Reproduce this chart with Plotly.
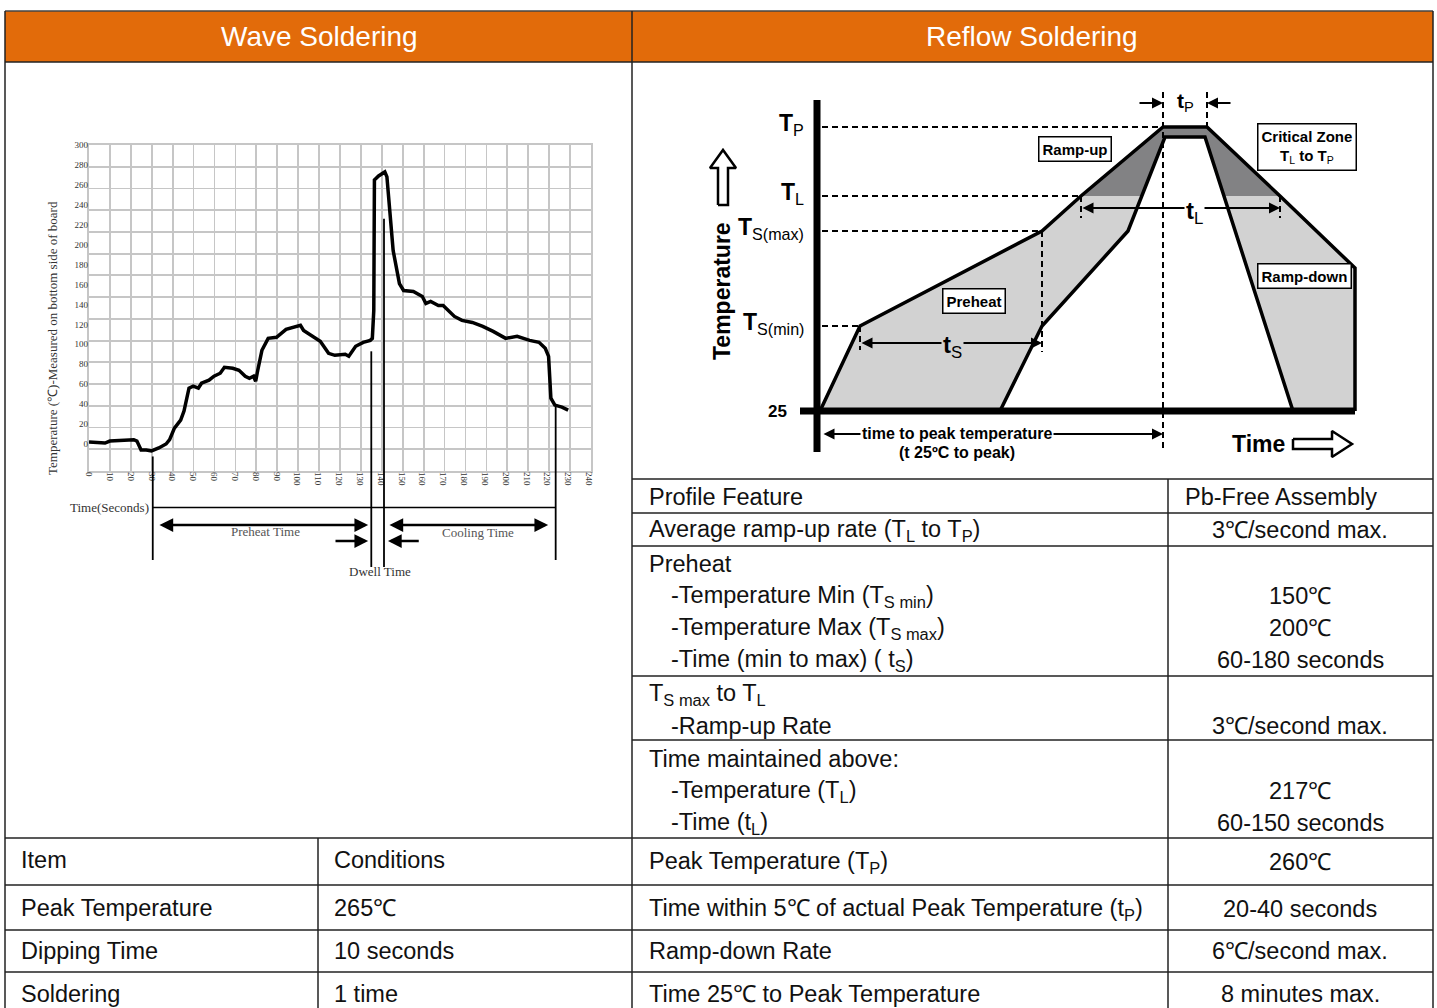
import plotly.graph_objects as go

W, H = 1437, 1008

# ---------------- Wave soldering profile (time s, temperature C) ----------------
wave_time = [0, 7.7, 10, 15.5, 21.5, 23, 25, 27.5, 30, 33.5, 37, 38.7, 41, 44, 45.6,
             48, 50, 52.5, 54, 57.6, 60, 63, 65, 69, 72, 75, 77, 79, 80, 81,
             83, 86, 90, 94.6, 98, 101.5, 103, 106.6, 111, 115, 118, 123, 124.7, 128, 131.6,
             135, 136, 136.7, 137, 139, 142, 143, 144.5, 146, 149, 151, 155.7, 160, 161.7, 164,
             167.7, 170, 175.4, 179, 184, 189, 194, 200, 205.5, 211.5, 216, 219, 220.6, 221.7, 223.6,
             227, 230]
wave_temp = [2, 1, 3, 4, 4.3, 3, -6, -6, -7, -4, 0, 4.3, 16, 24, 33,
             56, 58, 56, 61, 64, 68, 71, 77, 76, 74, 68, 66, 68, 63, 74,
             94, 106, 107, 115, 117, 119, 114, 109, 103, 91, 89, 90, 88, 98, 102,
             104, 106, 134, 265, 269, 273, 268, 231, 194, 161, 154, 153, 148, 141, 143,
             139, 139, 128, 124, 122, 118, 113, 106, 108, 104, 102, 96, 88, 46, 39,
             37, 34]
wave_xticks = list(range(0, 241, 10))
wave_yticks = list(range(0, 301, 20))
# the printed grid (24 x 15 cells) is not aligned exactly with the printed tick labels
grid_cols, grid_rows = 24, 15
# phase marker times (s) and the temperature where each marker line starts
marker_times = [30.6, 135.5, 141.6, 224]
marker_tops = [-12.5, 93, 226, 38]
preheat_span = [33.1, 134]
cooling_span = [143.5, 220.4]
dwell_in = [117.6, 134]
dwell_out = [159, 143.5]

# ---------------- Reflow profile diagram (schematic units) ----------------
outer_x = [3, 43, 225, 264, 346, 390, 463, 538, 538]
outer_y = [0, 85, 180, 215, 284, 284, 215, 143, 0]
inner_x = [183, 225, 311, 348, 388, 476]
inner_y = [0, 85, 180, 274, 274, 0]
level_main = ["T", "T", "T", "T"]
level_sub = ["P", "L", "S(max)", "S(min)"]
level_y = [284, 215, 180, 85]
level_x_end = [346, 264, 225, 43]

# ---------------- Tables ----------------
wave_rows = [("Item", "Conditions"), ("Peak Temperature", "265℃"),
             ("Dipping Time", "10 seconds"), ("Soldering", "1 time")]
reflow_lines = [
    ("Profile Feature", "Pb-Free Assembly", 0),
    ("Average ramp-up rate (T<sub>L</sub> to T<sub>P</sub>)", "3℃/second max.", 0),
    ("Preheat", "", 0),
    ("-Temperature Min (T<sub>S min</sub>)", "150℃", 1),
    ("-Temperature Max (T<sub>S max</sub>)", "200℃", 1),
    ("-Time (min to max) ( t<sub>S</sub>)", "60-180 seconds", 1),
    ("T<sub>S max</sub> to T<sub>L</sub>", "", 0),
    ("-Ramp-up Rate", "3℃/second max.", 1),
    ("Time maintained above:", "", 0),
    ("-Temperature (T<sub>L</sub>)", "217℃", 1),
    ("-Time (t<sub>L</sub>)", "60-150 seconds", 1),
    ("Peak Temperature (T<sub>P</sub>)", "260℃", 0),
    ("Time within 5℃ of actual Peak Temperature (t<sub>P</sub>)", "20-40 seconds", 0),
    ("Ramp-down Rate", "6℃/second max.", 0),
    ("Time 25℃ to Peak Temperature", "8 minutes max.", 0),
]

# ---------------- layout positions (pixels) ----------------
reflow_line_py = [497, 530, 564, 596, 628, 660, 694, 726, 759, 791, 823, 862, 909, 951, 994]
wave_row_py = [860, 908, 951, 994]
reflow_hlines = [479, 513, 546, 676, 740]
full_hlines = [838, 885, 930, 972]


def PX(px):
    return px / W


def PY(py):
    return 1 - py / H


TABLE_FONT = "Liberation Sans, Arial, sans-serif"
DIAG_FONT = "Liberation Sans Narrow, Arial Narrow, Liberation Sans, Arial, sans-serif"
SERIF = "Liberation Serif, Times New Roman, serif"
ORANGE = "#E26B0A"
TS = 23.5
GRID = "#c6c6c6"

# wave chart plot box (px) and label scales
GX0, GX1, GY_BOT, GY_TOP = 89, 591, 471, 145
PX_PER_S = 500 / 240.0
PX_PER_C = 299 / 300.0
XR = [0, (GX1 - GX0) / PX_PER_S]
YR = [-(GY_BOT - 444) / PX_PER_C, 300]

fig = go.Figure()

# grid carrier (invisible) on the grid axes
fig.add_trace(go.Scatter(x=[0], y=[0], mode="markers", marker=dict(opacity=0), xaxis="x", yaxis="y",
                         hoverinfo="skip", showlegend=False))
# ---- wave curve ----
fig.add_trace(go.Scatter(x=wave_time, y=wave_temp, mode="lines",
                         line=dict(color="black", width=3.5), xaxis="x3", yaxis="y3",
                         hoverinfo="skip", showlegend=False))

# ---- reflow diagram fills ----
fig.add_trace(go.Scatter(x=outer_x + [outer_x[0]], y=outer_y + [outer_y[0]], fill="toself",
                         fillcolor="#d2d2d2", mode="lines", line=dict(width=0),
                         xaxis="x2", yaxis="y2", hoverinfo="skip", showlegend=False))
dark_x = outer_x[3:7] + [outer_x[3]]
dark_y = outer_y[3:7] + [outer_y[3]]
fig.add_trace(go.Scatter(x=dark_x, y=dark_y, fill="toself", fillcolor="#828284", mode="lines",
                         line=dict(width=0), xaxis="x2", yaxis="y2", hoverinfo="skip", showlegend=False))
fig.add_trace(go.Scatter(x=inner_x + [inner_x[0]], y=inner_y + [inner_y[0]], fill="toself",
                         fillcolor="white", mode="lines", line=dict(width=0),
                         xaxis="x2", yaxis="y2", hoverinfo="skip", showlegend=False))

# dashed guides
dx, dy = [], []
for ly, lx in zip(level_y, level_x_end):
    dx += [5, lx, None]
    dy += [ly, ly, None]
dx += [outer_x[2], outer_x[2], None, outer_x[4], outer_x[4], None, outer_x[5], outer_x[5], None,
       outer_x[3], outer_x[3], None, outer_x[6], outer_x[6], None, outer_x[1], outer_x[1], None]
dy += [outer_y[2], 59, None, 319, -39, None, 319, outer_y[5], None,
       outer_y[3], 193, None, outer_y[6], 193, None, outer_y[1], 61, None]
fig.add_trace(go.Scatter(x=dx, y=dy, mode="lines", line=dict(color="black", width=2, dash="6px,4px"),
                         xaxis="x2", yaxis="y2", hoverinfo="skip", showlegend=False))

# outlines
fig.add_trace(go.Scatter(x=outer_x, y=outer_y, mode="lines", line=dict(color="black", width=3.5),
                         xaxis="x2", yaxis="y2", hoverinfo="skip", showlegend=False))
fig.add_trace(go.Scatter(x=inner_x, y=inner_y, mode="lines", line=dict(color="black", width=3.5),
                         xaxis="x2", yaxis="y2", hoverinfo="skip", showlegend=False))
# thick axes
fig.add_trace(go.Scatter(x=[0, 0, None, -17, 538], y=[311, -41, None, 0, 0], mode="lines",
                         line=dict(color="black", width=7), xaxis="x2", yaxis="y2",
                         hoverinfo="skip", showlegend=False))
# hollow arrows
fig.add_trace(go.Scatter(x=[-99, -99, -107, -94, -81, -89, -89, -99],
                         y=[206, 243, 243, 261, 243, 243, 206, 206], mode="lines", fill="toself",
                         fillcolor="white", line=dict(color="black", width=2.5),
                         xaxis="x2", yaxis="y2", hoverinfo="skip", showlegend=False))
fig.add_trace(go.Scatter(x=[476, 515, 515, 535, 515, 515, 476, 476],
                         y=[-28, -28, -20, -33, -46, -38, -38, -28], mode="lines", fill="toself",
                         fillcolor="white", line=dict(color="black", width=2.5),
                         xaxis="x2", yaxis="y2", hoverinfo="skip", showlegend=False))

ann = []
shapes = []


def ptext(text, px, py, size, color="#111", family=TABLE_FONT, xanchor="center", angle=0):
    return dict(text=text, x=PX(px), y=PY(py), xref="paper", yref="paper", xanchor=xanchor,
                yanchor="middle", showarrow=False, textangle=angle,
                font=dict(family=family, size=size, color=color))


def hline(x0, x1, py, color="#222", w=1.5):
    return dict(type="line", xref="paper", yref="paper", x0=PX(x0), x1=PX(x1), y0=PY(py), y1=PY(py),
                line=dict(color=color, width=w))


def vline(px, y0, y1, color="#222", w=1.5):
    return dict(type="line", xref="paper", yref="paper", x0=PX(px), x1=PX(px), y0=PY(y0), y1=PY(y1),
                line=dict(color=color, width=w))


# ---- table frame ----
shapes.append(dict(type="rect", xref="paper", yref="paper", x0=PX(5), x1=PX(1433), y0=PY(62), y1=PY(11),
                   fillcolor=ORANGE, line=dict(width=0), layer="below"))
shapes.append(hline(5, 1433, 11, "#444"))
shapes.append(hline(5, 1433, 62))
shapes.append(vline(5, 11, 1010))
shapes.append(vline(1433, 11, 1010))
shapes.append(vline(632, 11, 1010))
shapes.append(vline(318, 838, 1010))
shapes.append(vline(1168, 479, 1010))
for py in reflow_hlines:
    shapes.append(hline(632, 1433, py))
for py in full_hlines:
    shapes.append(hline(5, 1433, py))

ann.append(ptext("Wave Soldering", 319, 37, 28, "white"))
ann.append(ptext("Reflow Soldering", 1032, 37, 28, "white"))

for (a, b), py in zip(wave_rows, wave_row_py):
    ann.append(ptext(a, 19, py, TS, xanchor="left"))
    ann.append(ptext(b, 332, py, TS, xanchor="left"))
for (a, b, ind), py in zip(reflow_lines, reflow_line_py):
    ann.append(ptext(a, 669 if ind else 647, py, TS, xanchor="left"))
    if b:
        cx = 1281 if b.startswith("Pb") else 1300
        ann.append(ptext(b, cx, py, TS))

# ---- wave chart extras ----
WY0, WY1 = PY(GY_BOT), PY(GY_TOP)


def tpaper(T):
    return WY0 + (T - YR[0]) / (YR[1] - YR[0]) * (WY1 - WY0)


bottoms = [560, 567, 567, 560]
for t, top, bot in zip(marker_times, marker_tops, bottoms):
    shapes.append(dict(type="line", xref="x3", yref="paper", x0=t, x1=t, y0=tpaper(top), y1=PY(bot),
                       line=dict(color="black", width=1.8)))
shapes.append(dict(type="line", xref="x3", yref="paper", x0=marker_times[0], x1=marker_times[3],
                   y0=PY(507.5), y1=PY(507.5), line=dict(color="black", width=1.6)))


def harrow(t_head, t_tail, py, both=False):
    return dict(x=t_head, y=PY(py), xref="x3", yref="paper", axref="pixel", ayref="pixel",
                ax=(t_tail - t_head) * PX_PER_S, ay=0, text="", showarrow=True,
                arrowhead=2, arrowsize=1.1, arrowwidth=2.5, arrowcolor="black",
                arrowside="end+start" if both else "end")


def ttext(text, t, py, size=12, color="#444"):
    return dict(text=text, x=t, y=PY(py), xref="x3", yref="paper", xanchor="center", yanchor="middle",
                showarrow=False, font=dict(family=SERIF, size=size, color=color))


ann.append(ttext("Preheat Time", 84.5, 531, 13, "#555"))
ann.append(ttext("Cooling Time", 186.7, 532, 13, "#555"))
ann.append(harrow(preheat_span[1], preheat_span[0], 525, True))
ann.append(harrow(cooling_span[1], cooling_span[0], 525, True))
ann.append(harrow(dwell_in[1], dwell_in[0], 541))
ann.append(harrow(dwell_out[1], dwell_out[0], 541))
ann.append(ttext("Dwell Time", 139.7, 571, 13, "#333"))
ann.append(ptext("Time(Seconds)", 110, 507, 13, "#333", SERIF))
ann.append(ptext("Temperature (℃)-Measured on bottom side of board", 53, 338, 13, "#333", SERIF, angle=-90))

# ---- reflow diagram annotations ----


def dtext(text, x, y, size, xanchor="center", angle=0, bg=None, **kw):
    d = dict(text=text, x=x, y=y, xref="x2", yref="y2", xanchor=xanchor, yanchor="middle",
             showarrow=False, textangle=angle, font=dict(family=DIAG_FONT, size=size, color="black"))
    if bg:
        d["bgcolor"] = bg
    d.update(kw)
    return d


for m, s, ly in zip(level_main, level_sub, level_y):
    ann.append(dtext("<b>" + m + "</b><sub>" + s + "</sub>", -11, ly + 3, 23, xanchor="right"))
ann.append(dtext("<b>25</b>", -28, 0, 17, xanchor="right"))
ann.append(dtext("<b>Temperature</b>", -95, 120, 23, angle=-90))
ann.append(dtext("<b>Time</b>", 441, -33, 23))


def darrow(x_head, y_head, x_tail, y_tail, both=False):
    return dict(x=x_head, y=y_head, ax=x_tail, ay=y_tail, xref="x2", yref="y2", axref="x2", ayref="y2",
                text="", showarrow=True, arrowhead=2, arrowsize=1, arrowwidth=2.2, arrowcolor="black",
                arrowside="end+start" if both else "end")


ts_y, tl_y, tp_y, peak_y = 68, 203, 308, -23
ann.append(darrow(outer_x[2], ts_y, outer_x[1], ts_y, True))
ann.append(darrow(outer_x[6], tl_y, outer_x[3], tl_y, True))
ann.append(darrow(outer_x[4], tp_y, outer_x[4] - 25, tp_y))
ann.append(darrow(outer_x[5], tp_y, outer_x[5] + 25, tp_y))
ann.append(darrow(outer_x[4], peak_y, 5, peak_y, True))

ann.append(dtext("<b>t</b><sub>S</sub>", 135, ts_y - 3, 24, bg="#d2d2d2"))
ann.append(dtext("<b>t</b><sub>L</sub>", 377, tl_y - 4, 24, bg="white"))
ann.append(dtext("<b>t</b><sub>P</sub>", 368, tp_y + 1, 21))
ann.append(dtext("<b>time to peak temperature</b>", 140, peak_y + 1, 16, bg="white"))
ann.append(dtext("<b>(t 25ºC to peak)</b>", 140, -41, 16))

boxes = [("<b>Ramp-up</b>", 258, 262), ("<b>Preheat</b>", 157, 110), ("<b>Ramp-down</b>", 487, 135),
         ("<b>Critical Zone</b><br><b>T</b><sub>L</sub><b> to T</b><sub>P</sub>", 490, 264)]
for txt, bx, by in boxes:
    ann.append(dtext(txt, bx, by, 15, bg="white", bordercolor="black", borderwidth=1.5, borderpad=3))

fig.update_layout(
    template="none",
    width=W, height=H, margin=dict(l=0, r=0, t=0, b=0, pad=0, autoexpand=False),
    autosize=False,
    paper_bgcolor="white", plot_bgcolor="rgba(0,0,0,0)", showlegend=False,
    # printed grid
    xaxis=dict(domain=[PX(GX0), PX(GX1)], range=[0, grid_cols], dtick=1, showticklabels=False,
               showgrid=True, gridcolor=GRID, gridwidth=1.8, zeroline=False, automargin=False,
               showline=True, linecolor=GRID, linewidth=1.8, mirror=True, ticks="", fixedrange=True),
    yaxis=dict(domain=[WY0, WY1], range=[0, grid_rows], dtick=1, showticklabels=False,
               showgrid=True, gridcolor=GRID, gridwidth=1.8, zeroline=False, automargin=False,
               showline=True, linecolor=GRID, linewidth=1.8, mirror=True, ticks="", fixedrange=True),
    # printed tick label scales
    xaxis3=dict(overlaying="x", anchor="y", range=XR, tickvals=wave_xticks, tickangle=90,
                showgrid=False, zeroline=False, showline=False, ticks="", automargin=False,
                tickfont=dict(family=SERIF, size=9, color="#333"), fixedrange=True),
    yaxis3=dict(overlaying="y", anchor="x", range=YR, tickvals=wave_yticks,
                showgrid=False, zeroline=False, showline=False, ticks="", automargin=False,
                tickfont=dict(family=SERIF, size=9, color="#333"), fixedrange=True),
    xaxis2=dict(domain=[PX(700), PX(1380)], range=[-117, 563], visible=False, fixedrange=True,
                automargin=False),
    yaxis2=dict(domain=[PY(470), PY(85)], range=[-59, 326], visible=False, fixedrange=True,
                automargin=False),
    annotations=ann, shapes=shapes,
)

page_css = ("document.documentElement.style.margin='0';document.body.style.margin='0';"
            "document.body.style.padding='0';document.documentElement.style.overflow='hidden';"
            "document.body.style.overflow='hidden';")
fig.write_html("out.html", post_script=page_css, config={"displayModeBar": False, "staticPlot": True})
